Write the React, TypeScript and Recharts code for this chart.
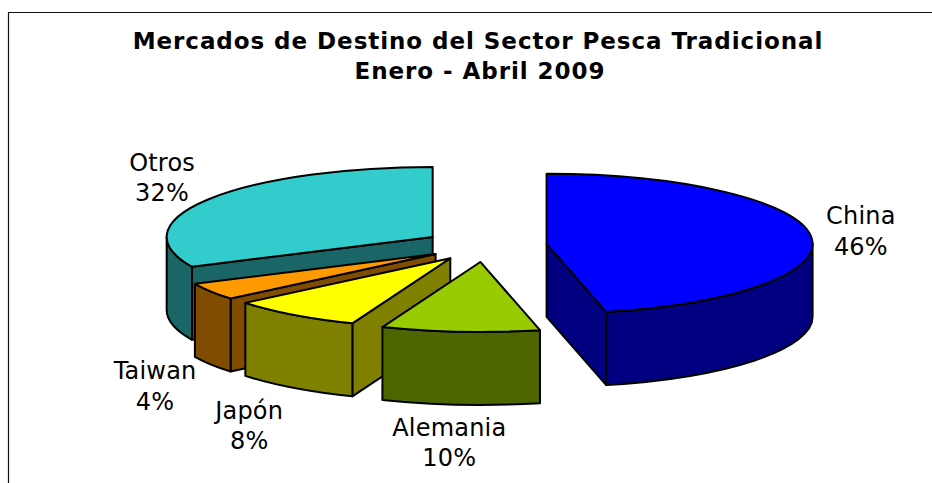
import { Pie, PieChart } from 'recharts'

const categories = ['Otros', 'Taiwan', 'Japón', 'Alemania', 'China']
// printed labels are rounded, the cuts in the picture sit slightly off the rounded shares
const shares = [32, 4, 8, 9.6, 46.4]
const topColors = ['#33CCCC', '#FF9900', '#FFFF00', '#99CC00', '#0000FF']
const wallColors = ['#1A6666', '#804D00', '#808000', '#4D6600', '#000080']
const slicePull = [0.233, 0.22, 0.222, 0.233, 0.233]
const titleLines = ['Mercados de Destino del Sector Pesca Tradicional', 'Enero - Abril 2009']

// label placement relative to the rim point of each slice
const labelNudges: Record<string, [number, number]> = {
  Otros: [-46, -21.5],
  Taiwan: [-53, 94.5],
  'Japón': [-43, 110],
  Alemania: [-11, 111],
  China: [50, -4.5]
}

const tableData = categories.map((name, i) => ({
  name,
  value: shares[i],
  fill: topColors[i],
  wall: wallColors[i],
  pull: slicePull[i]
}))

const SQUASH = 70 / 266
const LABEL_PULL = 0.233
const DEPTH = 73
const RAD = Math.PI / 180

function Slice3D(props: any) {
  const { cx, cy, outerRadius: r, startAngle, endAngle, midAngle, fill, wall, pull } = props
  const ox = cx + pull * r * Math.cos(midAngle * RAD)
  const oy = cy - pull * r * SQUASH * Math.sin(midAngle * RAD)
  const rim = (a: number, drop = 0) => [
    ox + r * Math.cos(a * RAD),
    oy - r * SQUASH * Math.sin(a * RAD) + drop
  ]
  const arc = (a: number, b: number, drop = 0) => {
    const [x, y] = rim(b, drop)
    return `A${r} ${r * SQUASH} 0 ${b - a > 180 ? 1 : 0} 0 ${x} ${y}`
  }
  const [sx, sy] = rim(startAngle)
  const [ex, ey] = rim(endAngle)
  const top = `M${ox} ${oy}L${sx} ${sy}${arc(startAngle, endAngle)}Z`

  // a cut face shows only if hanging it downwards leaves the top of the slice
  const [mx, my] = rim(midAngle)
  const faces = [[sx, sy], [ex, ey]]
    .filter(([x, y]) => {
      const side = (x - ox) * (my - oy) - (y - oy) * (mx - ox)
      return (x - ox) * side < 0
    })
    .map(([x, y]) => `M${ox} ${oy}L${x} ${y}L${x} ${y + DEPTH}L${ox} ${oy + DEPTH}Z`)

  // outer wall, only the front half of the ring
  const from = Math.max(startAngle, 180)
  const to = Math.min(endAngle, 360)
  let outer = ''
  if (to > from) {
    const [ax, ay] = rim(from)
    const [bx, by] = rim(to, DEPTH)
    const [cx2, cy2] = rim(from, DEPTH)
    outer = `M${ax} ${ay}${arc(from, to)}L${bx} ${by}`
    outer += `A${r} ${r * SQUASH} 0 ${to - from > 180 ? 1 : 0} 1 ${cx2} ${cy2}Z`
  }

  const stroke = { stroke: '#000', strokeWidth: 2, strokeLinejoin: 'round' as const }
  return (
    <g>
      {faces.map(d => <path key={d} d={d} fill={wall} {...stroke} />)}
      {outer && <path d={outer} fill={wall} {...stroke} />}
      <path d={top} fill={fill} {...stroke} />
    </g>
  )
}

function SliceLabel(props: any) {
  const { cx, cy, outerRadius: r, midAngle, name, value } = props
  const [dx, dy] = labelNudges[name]
  const x = cx + (1 + LABEL_PULL) * r * Math.cos(midAngle * RAD) + dx
  const y = cy - (1 + LABEL_PULL) * r * SQUASH * Math.sin(midAngle * RAD) + dy
  return (
    <text x={x} y={y} textAnchor="middle" fontFamily="DejaVu Sans" fontSize={24} letterSpacing={0.2} fill="#000">
      <tspan x={x} dy={-7}>{name}</tspan>
      <tspan x={x} dy={30.5}>{Math.round(value)}%</tspan>
    </text>
  )
}

export default function App() {
  return (
    <div style={{ position: 'absolute', left: 0, top: 0, width: 932, height: 483, background: '#fff' }}>
      <PieChart width={932} height={483} margin={{ top: 0, right: 0, bottom: 0, left: 0 }}>
        <path d="M8.5 483V12.5H932" fill="none" stroke="#111" strokeWidth={1.2} />
        <text textAnchor="middle" fontFamily="DejaVu Sans" fontWeight="bold" fontSize={23} letterSpacing={0.95} fill="#000">
          <tspan x={478} y={49}>{titleLines[0]}</tspan>
          <tspan x={480} y={79}>{titleLines[1]}</tspan>
        </text>
        <Pie
          data={tableData}
          dataKey="value"
          nameKey="name"
          cx={485}
          cy={245.7}
          outerRadius={266}
          startAngle={90}
          endAngle={450}
          paddingAngle={0}
          stroke="none"
          shape={Slice3D}
          label={SliceLabel}
          labelLine={false}
          isAnimationActive={false}
        />
      </PieChart>
    </div>
  )
}
